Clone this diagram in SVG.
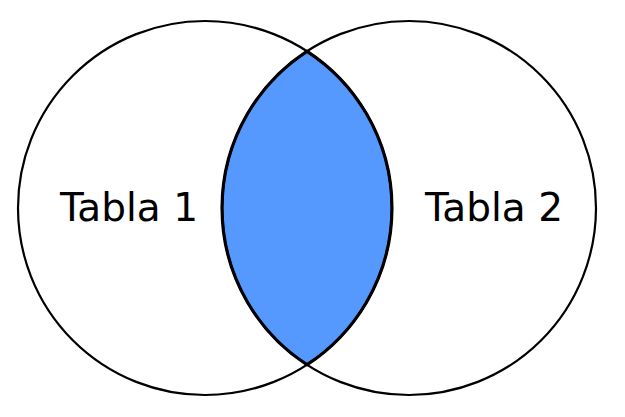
<svg xmlns="http://www.w3.org/2000/svg" width="625" height="417" viewBox="0 0 625 417">
<style>
.c{fill:none;stroke:#000;stroke-width:2.2}
.t{font-family:"DejaVu Sans",sans-serif;font-size:39px;fill:#000}
</style>
<rect width="625" height="417" fill="#fff"/>
<g id="lens">
<path d="M307,51.3 A187,187 0 0 1 307,364.7 A187,187 0 0 1 307,51.3 Z" fill="#5599ff" stroke="#000" stroke-width="3.2"/>
</g>
<g id="tabla1">
<circle class="c" cx="205" cy="208" r="187"/>
<text class="t" x="60" y="221">Tabla 1</text>
</g>
<g id="tabla2">
<circle class="c" cx="409" cy="208" r="187"/>
<text class="t" x="425" y="221">Tabla 2</text>
</g>
</svg>
